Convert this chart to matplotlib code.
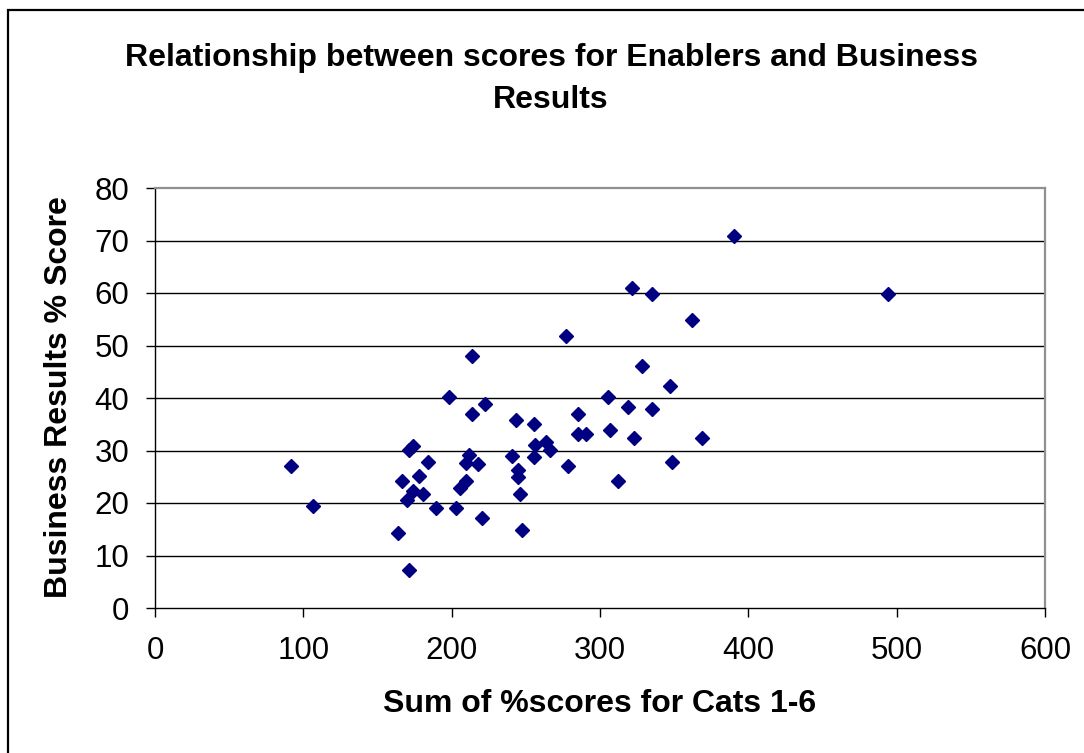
import matplotlib
matplotlib.use("Agg")
import matplotlib.pyplot as plt
from matplotlib.patches import Rectangle

# sum of % scores for cats 1-6 vs business results % score
enablers = [91.5, 106.7, 163.6, 166.3, 170.1, 171.2, 171.4, 174.1, 174.1, 178.2,
            180.9, 183.8, 189.2, 198.4, 202.9, 205.6, 209.7, 209.7, 212.0, 213.5,
            213.5, 217.6, 220.2, 222.7, 240.7, 243.2, 244.5, 244.5, 246.1, 247.2,
            255.3, 255.3, 256.4, 263.6, 266.3, 277.1, 278.2, 285.2, 285.2, 290.6,
            305.3, 306.8, 311.9, 318.9, 321.4, 322.9, 328.1, 334.9, 334.9, 347.2,
            348.4, 362.0, 368.8, 390.1, 494.2]
results = [27.0, 19.4, 14.2, 24.1, 20.6, 7.2, 30.1, 30.9, 22.3, 25.1,
           21.7, 27.8, 19.0, 40.1, 19.0, 22.8, 24.2, 27.7, 29.1, 48.0,
           37.0, 27.4, 17.1, 38.9, 29.0, 35.8, 26.3, 25.0, 21.7, 14.9,
           35.0, 28.8, 31.0, 31.7, 30.1, 51.8, 27.1, 37.0, 33.2, 33.2,
           40.1, 33.9, 24.1, 38.2, 61.0, 32.3, 46.1, 59.8, 38.0, 42.3,
           27.9, 54.9, 32.3, 70.9, 59.8]

xticks = [0, 100, 200, 300, 400, 500, 600]
yticks = [0, 10, 20, 30, 40, 50, 60, 70, 80]

W, H = 1084, 753
plt.rcParams['font.family'] = ['Liberation Sans', 'DejaVu Sans']

fig = plt.figure(figsize=(W / 100, H / 100), dpi=100, facecolor='white')
ax = fig.add_axes([155 / W, 1 - 608 / H, 890 / W, 420 / H])

# outer chart border (only top/left visible in the picture)
fig.patches.append(Rectangle((8 / W, -0.1), 1.2, (H - 10) / H + 0.1,
                             transform=fig.transFigure, fill=False,
                             edgecolor='black', linewidth=1.6))

for y in yticks[1:-1]:
    ax.axhline(y, color='black', linewidth=1.0, zorder=1)

ax.plot(enablers, results, linestyle='none', marker='D', markersize=7,
        color='#000080', zorder=3, clip_on=False)

ax.set_xlim(0, 600)
ax.set_ylim(0, 80)
ax.set_xticks(xticks)
ax.set_yticks(yticks)
ax.tick_params(axis='both', direction='out', length=6.5, width=1.0,
               labelsize=22.5, color='black')
ax.tick_params(axis='x', pad=14)
ax.tick_params(axis='y', pad=12)

for side in ['top', 'right']:
    ax.spines[side].set_color('#909090')
    ax.spines[side].set_linewidth(1.6)
for side in ['left', 'bottom']:
    ax.spines[side].set_color('black')
    ax.spines[side].set_linewidth(1.0)

fig.text(551 / W, 1 - 79 / H,
         'Relationship between scores for Enablers and Business\nResults',
         ha='center', va='center', fontsize=23, fontweight='bold',
         linespacing=1.55)
fig.text(600 / W, 1 - 704 / H, 'Sum of %scores for Cats 1-6',
         ha='center', va='center', fontsize=23, fontweight='bold')
fig.text(59 / W, 1 - 397 / H, 'Business Results % Score', rotation=90,
         ha='center', va='center', fontsize=23, fontweight='bold')

fig.savefig('out.png', dpi=100)
